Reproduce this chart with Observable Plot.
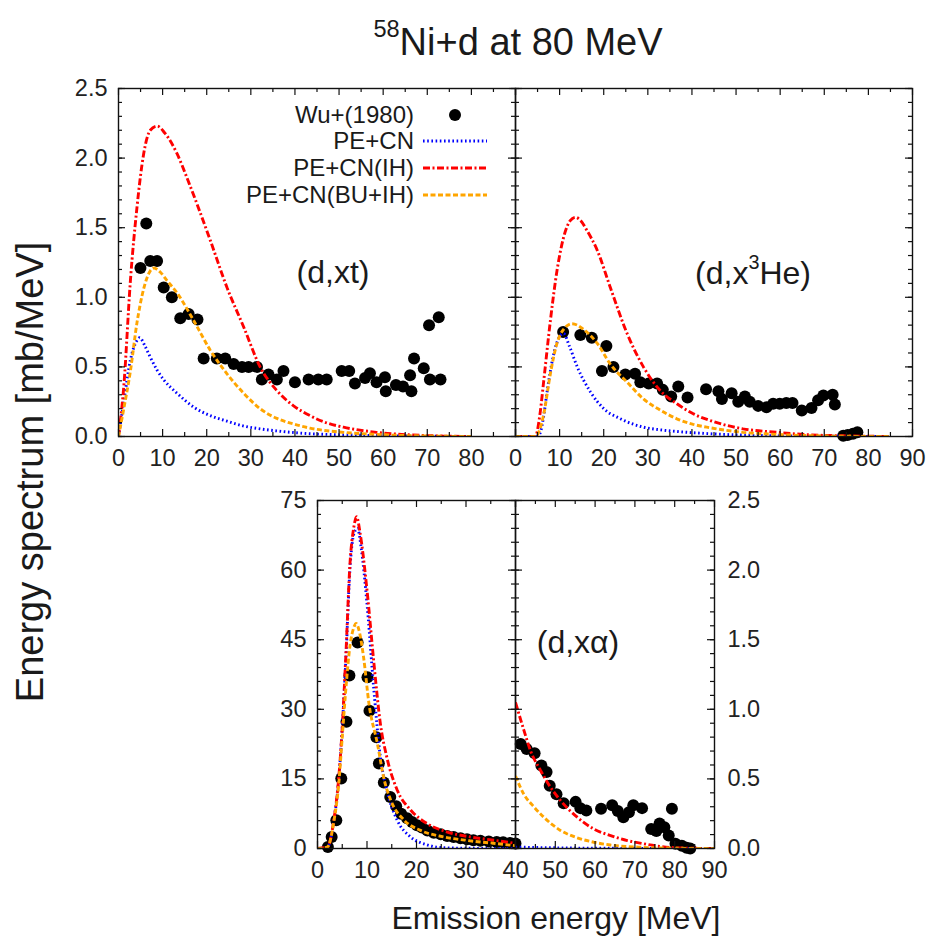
<!DOCTYPE html>
<html><head><meta charset="utf-8">
<script src="https://cdn.jsdelivr.net/npm/d3@7"></script>
<script src="https://cdn.jsdelivr.net/npm/@observablehq/plot@0.6"></script>
<style>
body{margin:0;background:#fff;}
#chart{position:relative;width:929px;height:944px;font-family:"Liberation Sans",Arial,Helvetica,sans-serif;color:#1a1a1a;overflow:hidden;}
.txt{position:absolute;white-space:nowrap;line-height:1;}
.txt sup{font-size:62%;vertical-align:0;position:relative;top:-0.75em;}
</style></head><body><div id="chart"></div>
<script>
// ---------------- data (E [MeV], spectrum [mb/MeV]) ----------------
const seriesNames = ["Wu+(1980)", "PE+CN", "PE+CN(IH)", "PE+CN(BU+IH)"];

// (d,xt)
const xtExp = [[4.98,1.21],[6.3,1.53],[7.2,1.26],[8.75,1.26],[10.25,1.07],[12.1,1.0],[14.0,0.85],[15.9,0.88],[17.9,0.84],[19.3,0.56],[22.3,0.56],[24.2,0.56],[26.1,0.52],[28.0,0.50],[29.5,0.50],[31.4,0.50],[32.5,0.41],[34.0,0.445],[35.9,0.41],[37.4,0.47],[40.0,0.39],[43.1,0.41],[45.3,0.41],[47.2,0.41],[50.6,0.47],[52.3,0.47],[53.6,0.38],[55.9,0.42],[57.0,0.455],[58.5,0.39],[60.4,0.426],[60.6,0.325],[62.9,0.37],[64.5,0.36],[66.1,0.44],[66.4,0.325],[67.0,0.56],[69.2,0.49],[70.4,0.80],[70.6,0.41],[72.6,0.857],[73.0,0.41]];
const xtPE = [[0,0],[1.2,0.25],[2.7,0.55],[4.0,0.68],[4.8,0.71],[6,0.65],[7.2,0.57],[8.7,0.48],[10.2,0.41],[13.3,0.31],[17.1,0.21],[20.8,0.15],[24.6,0.11],[28.4,0.075],[32.1,0.055],[35.9,0.04],[43.4,0.02],[51,0.012],[58.5,0.007],[66,0.003],[73.6,0.001],[80,0]];
const xtIH = [[0,0],[1.2,0.36],[2.7,1.12],[4.2,1.65],[5.7,2.03],[7.2,2.20],[8.75,2.23],[10.5,2.18],[13.3,2.03],[15.5,1.86],[17.8,1.67],[20.8,1.41],[24.6,1.07],[28.4,0.785],[32.1,0.50],[35.9,0.33],[39.7,0.22],[43.4,0.15],[47,0.10],[51,0.067],[58.5,0.03],[66,0.012],[73.6,0.003],[80,0]];
const xtBU = [[0,0],[1.2,0.2],[2.7,0.47],[4.2,0.82],[5.7,1.06],[7.2,1.19],[8.0,1.21],[9.5,1.18],[11,1.12],[13.3,1.03],[17.1,0.83],[20.8,0.62],[24.6,0.45],[28.4,0.31],[32.1,0.20],[35.9,0.13],[39.7,0.09],[43.4,0.06],[51,0.03],[58.5,0.015],[66,0.006],[73,0.002],[80,0]];

// (d,x3He)
const heExp = [[10.8,0.75],[14.7,0.73],[17.3,0.71],[20.6,0.65],[19.6,0.47],[22.2,0.50],[24.9,0.445],[27.1,0.45],[28.3,0.39],[30.2,0.38],[32.1,0.38],[33.4,0.335],[35.3,0.287],[36.9,0.36],[39.0,0.28],[43.2,0.34],[46.0,0.325],[46.8,0.27],[49.0,0.31],[50.5,0.25],[52.0,0.287],[53.1,0.25],[55.0,0.22],[56.9,0.21],[58.4,0.235],[59.9,0.235],[61.4,0.24],[62.8,0.24],[64.9,0.187],[67.1,0.205],[68.6,0.26],[69.8,0.295],[71.9,0.30],[72.4,0.23],[74.3,0.005],[75.3,0.01],[76.5,0.02],[77.5,0.03]];
const hePE = [[0,0],[4.5,0],[5.5,0.02],[6.4,0.15],[7.2,0.33],[8.5,0.57],[9.7,0.70],[10.9,0.74],[12.2,0.65],[14.0,0.50],[17.0,0.32],[20,0.20],[23.8,0.127],[29,0.067],[32.8,0.048],[36.6,0.036],[44.1,0.02],[51.6,0.01],[59.2,0.005],[70,0.002],[85,0]];
const heIH = [[0,0],[4.5,0],[5.5,0.15],[6.4,0.40],[7.9,0.83],[9.4,1.19],[10.9,1.43],[12.4,1.55],[13.6,1.575],[14.8,1.55],[16.2,1.48],[18.5,1.34],[21.5,1.07],[25.3,0.74],[29.0,0.50],[32.8,0.33],[36.6,0.235],[40.3,0.163],[44.1,0.115],[51.6,0.055],[59.2,0.03],[66.7,0.012],[74.3,0.005],[85,0]];
const heBU = [[0,0],[4.5,0],[5.5,0.05],[6.4,0.16],[7.9,0.45],[9.4,0.67],[10.9,0.77],[12.8,0.81],[14,0.80],[15.4,0.77],[18.5,0.67],[21.5,0.52],[25.3,0.39],[29.0,0.27],[32.8,0.19],[36.6,0.127],[40.3,0.087],[44.1,0.063],[51.6,0.03],[59.2,0.015],[66.7,0.006],[74.3,0.002],[85,0]];

// (d,xα) low-energy part, 0–40 MeV, 0–75 mb/MeV
const alExpLow = [[2.1,0.3],[2.86,2.5],[3.8,6.1],[4.8,15.1],[5.85,27.3],[6.45,37.3],[8.1,44.4],[10.1,36.9],[10.5,29.7],[11.9,24.0],[12.4,18.3],[13.4,14.2],[14.7,11.1],[15.9,9.1],[16.9,7.5],[18.1,6.5],[19.1,5.7],[20.1,5.0],[21.1,4.5],[22.2,3.9],[23.5,3.4],[24.9,3.05],[26.2,2.7],[27.5,2.5],[28.9,2.2],[30.2,2.0],[31.5,1.8],[32.9,1.65],[34.6,1.5],[36.2,1.4],[37.5,1.35],[38.9,1.2],[40.0,1.1]];
const alPELow = [[0,0],[2,0.3],[3.3,6],[4.3,15],[5.0,26],[5.7,40],[6.6,61],[7.4,68],[8.1,69],[8.8,65],[10.0,52.8],[11.4,34],[12.7,19.7],[14.0,12.6],[16.1,6.1],[18.8,2.5],[22.1,0.8],[25,0.2],[30,0.05],[40,0.01]];
const alIHLow = [[0,0],[2,0.3],[3.3,6.1],[4.3,15.4],[5.0,26],[5.7,41],[6.6,62],[7.3,69],[7.9,71.5],[8.6,68],[10.0,55.7],[11.4,39.9],[12.7,26.9],[14.0,19.7],[16.1,12.6],[18.8,8.3],[22.1,5.4],[26.1,3.6],[30.8,2.5],[36.2,1.7],[40,1.1]];
const alBULow = [[0,0],[2,0.3],[3.3,5.8],[4.3,14],[5.0,24],[5.7,34],[6.6,44],[7.3,47.5],[7.8,48.5],[8.5,46.5],[9.3,41.3],[10.4,31.2],[12.1,22.6],[13.5,14.7],[14.8,10.4],[17.5,6.1],[20.8,3.9],[25.5,2.5],[30.8,1.66],[37.5,0.9],[40,0.6]];

// (d,xα) high-energy part, 40–90 MeV, 0–2.5 mb/MeV
const alExpHigh = [[41.3,0.75],[42.8,0.715],[44.8,0.685],[46.5,0.596],[47.8,0.55],[48.6,0.45],[50.3,0.39],[52.1,0.325],[55.1,0.335],[56.3,0.29],[57.8,0.273],[61.5,0.285],[64.3,0.31],[65.7,0.27],[67.1,0.225],[68.5,0.26],[69.6,0.31],[71.8,0.29],[74.1,0.14],[75.4,0.125],[76.2,0.18],[77.4,0.153],[78.5,0.093],[79.3,0.285],[80.2,0.034],[81.8,0.02],[83.0,0.005],[83.9,0.0]];
const alPEHigh = [[40,0.01],[50,0.005],[60,0.002],[70,0.001],[90,0]];
const alIHHigh = [[40,1.05],[42.1,0.85],[43.8,0.70],[46.3,0.56],[48.8,0.44],[51.3,0.345],[55.5,0.225],[59.7,0.14],[63.9,0.093],[68.1,0.057],[72.2,0.034],[76.4,0.015],[80.6,0.005],[90,0]];
const alBUHigh = [[40,0.52],[42.1,0.39],[44.6,0.30],[47.1,0.225],[51.3,0.13],[55.5,0.077],[59.7,0.045],[63.9,0.025],[72,0.008],[80.6,0.002],[90,0]];

// tick labels
const xLabelsTopLeft = [0,10,20,30,40,50,60,70,80];
const xLabelsTopRight = [0,10,20,30,40,50,60,70,80,90];
const xLabelsBottomLeft = [0,10,20,30,40];
const xLabelsBottomRight = [50,60,70,80,90];
const yLabelsSmall = [0,0.5,1.0,1.5,2.0,2.5];
const yLabelsLarge = [0,15,30,45,60,75];

// ---------------- styles ----------------
const FONT = '"Liberation Sans", Arial, Helvetica, sans-serif';
const styles = {
  "PE+CN": {stroke:"#0000ff", strokeDasharray:"1.6,2.6"},
  "PE+CN(IH)": {stroke:"#ff0000", strokeDasharray:"7,2.5,2,2.5"},
  "PE+CN(BU+IH)": {stroke:"#ffa500", strokeDasharray:"5,2.5"}
};
const LW = 2.9;
const DOT_R = 6;
const W = 929, H = 944;
const root = document.getElementById("chart");

function range(a, b, s) { return d3.range(a, b + s/2, s).map(v => +v.toFixed(6)); }

function panel(o) {
  const [x0, x1, y0, y1] = o.frame;
  const fw = x1 - x0, fh = y1 - y0;
  const marks = [];
  marks.push(Plot.dot(o.exp, {x: d => d[0], y: d => d[1], r: DOT_R, fill: "black", stroke: "none"}));
  const lines = [["PE+CN", o.pe], ["PE+CN(IH)", o.ih], ["PE+CN(BU+IH)", o.bu]];
  for (const [name, data] of lines) {
    marks.push(Plot.line(data, {x: d => d[0], y: d => d[1], curve: "monotone-x", strokeWidth: LW,
      strokeLinecap: "butt", strokeLinejoin: "miter", clip: true, ...styles[name]}));
  }
  const tk = {stroke: "#111", strokeWidth: 1.2};
  for (const [vals, len] of [[o.xMajor, 7], [o.xMinor, 4]]) {
    marks.push(Plot.tickX(vals, {x: d => d, insetTop: fh - len, ...tk}));
    marks.push(Plot.tickX(vals, {x: d => d, insetBottom: fh - len, ...tk}));
  }
  for (const [vals, len] of [[o.yMajor, 7], [o.yMinor, 4]]) {
    marks.push(Plot.tickY(vals, {y: d => d, insetRight: fw - len, ...tk}));
    marks.push(Plot.tickY(vals, {y: d => d, insetLeft: fw - len, ...tk}));
  }
  marks.push(Plot.frame({stroke: "#111", strokeWidth: 1.4}));
  const axText = {tickSize: 0, fontSize: 23.5, fill: "#222", label: null};
  if (o.xLabels) marks.push(Plot.axisX(o.xLabels, {anchor: "bottom", tickPadding: 13, tickFormat: d => String(d), ...axText}));
  if (o.yLabels) marks.push(Plot.axisY(o.yLabels, {anchor: o.yAnchor, tickPadding: o.yAnchor === "right" ? 13 : 11, tickFormat: o.yFormat, ...axText}));
  const svg = Plot.plot({
    width: W, height: H,
    marginLeft: x0, marginRight: W - x1, marginTop: y0, marginBottom: H - y1,
    x: {domain: o.xDomain, axis: null},
    y: {domain: o.yDomain, axis: null},
    style: {background: "transparent", position: "absolute", left: "0px", top: "0px", overflow: "visible", fontFamily: FONT, maxWidth: "none"},
    marks
  });
  root.appendChild(svg);
}

const f1 = d3.format(".1f");
// top-left (d,xt)
panel({frame: [118, 515, 88, 436], xDomain: [0, 90], yDomain: [0, 2.5],
  xMajor: range(0, 90, 10), xMinor: range(5, 85, 10), yMajor: range(0, 2.5, 0.5), yMinor: range(0, 2.5, 0.1),
  xLabels: xLabelsTopLeft, yLabels: yLabelsSmall, yAnchor: "left", yFormat: f1,
  exp: xtExp, pe: xtPE, ih: xtIH, bu: xtBU});
// top-right (d,x3He)
panel({frame: [515, 912, 88, 436], xDomain: [0, 90], yDomain: [0, 2.5],
  xMajor: range(0, 90, 10), xMinor: range(5, 85, 10), yMajor: range(0, 2.5, 0.5), yMinor: range(0, 2.5, 0.1),
  xLabels: xLabelsTopRight, yLabels: null,
  exp: heExp, pe: hePE, ih: heIH, bu: heBU});
// bottom-left (alpha, 0-40)
panel({frame: [317, 515, 500, 848], xDomain: [0, 40], yDomain: [0, 75],
  xMajor: range(0, 40, 10), xMinor: range(5, 35, 10), yMajor: range(0, 75, 15), yMinor: range(0, 75, 3),
  xLabels: xLabelsBottomLeft, yLabels: yLabelsLarge, yAnchor: "left", yFormat: d => String(d),
  exp: alExpLow, pe: alPELow, ih: alIHLow, bu: alBULow});
// bottom-right (alpha, 40-90)
panel({frame: [515, 714, 500, 848], xDomain: [40, 90], yDomain: [0, 2.5],
  xMajor: range(40, 90, 10), xMinor: range(45, 85, 10), yMajor: range(0, 2.5, 0.5), yMinor: range(0, 2.5, 0.1),
  xLabels: xLabelsBottomRight, yLabels: yLabelsSmall, yAnchor: "right", yFormat: f1,
  exp: alExpHigh, pe: alPEHigh, ih: alIHHigh, bu: alBUHigh});

// ---------------- texts ----------------
function addText(html, x, y, size, opts = {}) {
  const d = document.createElement("div");
  d.className = "txt";
  d.innerHTML = html;
  d.style.left = x + "px";
  d.style.top = y + "px";
  d.style.fontSize = size + "px";
  d.style.transform = opts.transform || "translate(-50%,-50%)";
  if (opts.color) d.style.color = opts.color;
  root.appendChild(d);
  return d;
}
addText("<sup>58</sup>Ni+d at 80 MeV", 518, 42, 38);
addText("Energy spectrum [mb/MeV]", 30, 472, 38, {transform: "translate(-50%,-50%) rotate(-90deg)"});
addText("Emission energy [MeV]", 556, 918, 32);
addText("(d,xt)", 333, 272, 32);
addText("(d,x<sup>3</sup>He)", 753, 273, 32);
addText("(d,x&alpha;)", 578, 642, 32);

// legend
const legendRows = [115, 141, 168, 195];
const legendSvg = d3.create("svg").attr("width", W).attr("height", H)
  .style("position", "absolute").style("left", "0px").style("top", "0px").style("overflow", "visible");
seriesNames.forEach((name, i) => {
  const y = legendRows[i];
  addText(name, 414, y, 24, {transform: "translate(-100%,-50%)", color: "#1a1a1a"});
  if (i === 0) {
    legendSvg.append("circle").attr("cx", 455).attr("cy", y).attr("r", DOT_R).attr("fill", "black");
  } else {
    const s = styles[name];
    legendSvg.append("line").attr("x1", 423).attr("x2", 487).attr("y1", y).attr("y2", y)
      .attr("stroke", s.stroke).attr("stroke-width", LW).attr("stroke-dasharray", s.strokeDasharray);
  }
});
root.appendChild(legendSvg.node());
</script></body></html>
